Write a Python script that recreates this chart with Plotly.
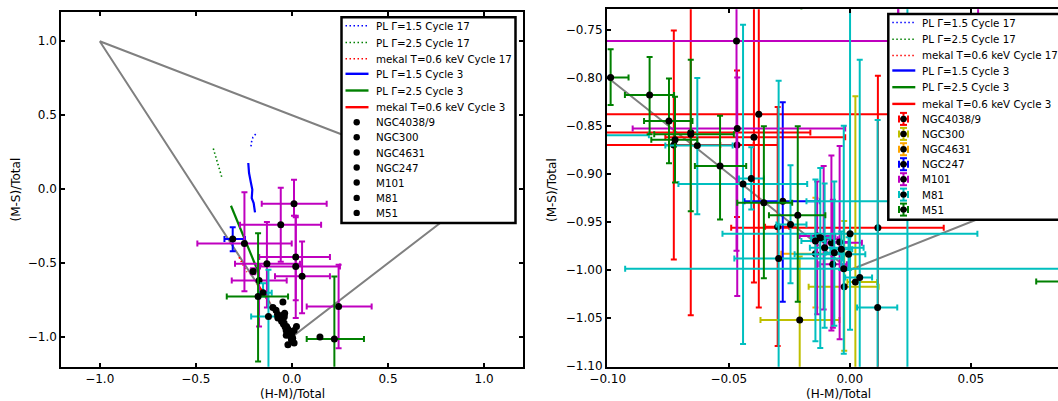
import plotly.graph_objects as go

W, H = 1058, 401

# ---------------- model tracks: x = (H-M)/Total, y = (M-S)/Total ----------------
pl15_c17_x = [-0.213, -0.210, -0.203, -0.192, -0.180]
pl15_c17_y = [0.290, 0.320, 0.350, 0.372, 0.387]
pl25_c17_x = [-0.409, -0.391, -0.378, -0.365]
pl25_c17_y = [0.275, 0.200, 0.143, 0.082]
mekal_c17_x = [-0.275, -0.255, -0.235]
mekal_c17_y = [-0.460, -0.510, -0.560]
pl15_c3_x = [-0.227, -0.223, -0.213, -0.206, -0.209, -0.199, -0.192]
pl15_c3_y = [0.177, 0.109, 0.042, -0.003, -0.060, -0.094, -0.157]
pl25_c3_x = [-0.317, -0.270, -0.220, -0.175]
pl25_c3_y = [-0.112, -0.260, -0.410, -0.560]
mekal_c3_x = [-0.180, -0.150, -0.116]
mekal_c3_y = [-0.640, -0.700, -0.768]

model_names = ["PL \u0393=1.5 Cycle 17", "PL \u0393=2.5 Cycle 17", "mekal T=0.6 keV Cycle 17",
               "PL \u0393=1.5 Cycle 3", "PL \u0393=2.5 Cycle 3", "mekal T=0.6 keV Cycle 3"]

# boundary triangle of the colour-colour plane
tri_x = [-1.0, 1.0, 0.0, -1.0]
tri_y = [1.0, 0.0, -1.0, 1.0]

# ---------------- sources: rows of (x, y, x_low, x_high, y_low, y_high) ----------------
ngc4038_core = [
    (-0.0727, -0.870, -0.115, -0.0297, -0.989, -0.751),
    (-0.0657, -0.857, -0.115, -0.0163, -1.047, -0.700),
    (-0.0396, -0.862, -0.0762, -0.0019, -1.013, -0.700),
    (-0.0376, -0.838, -0.130, 0.120, -1.039, -0.700),
    (-0.0466, -0.870, -0.0535, -0.0397, -0.945, -0.7925),
    (0.0116, -0.956, -0.049, 0.0388, -1.120, -0.798),
    (-0.0298, -0.955, -0.035, -0.025, -1.079, -0.8306),
    (0.146, -1.000, 0.140, 0.152, -1.005, -0.995),
]
ngc300_core = [
    (-0.0207, -1.052, -0.0369, -0.0043, -1.150, -0.986),
    (0.0023, -1.0125, -0.001, 0.0113, -1.200, -0.8195),
    (-0.0023, -1.0173, -0.017, 0.0119, -1.084, -0.949),
]
ngc4631_core = [
    (-0.0142, -0.983, -0.0283, -0.0005, -1.039, -0.925),
]
ngc247_core = [
    (-0.0277, -0.9284, -0.0435, -0.0124, -1.033, -0.8257),
]
ngc247_wide = [
    (-0.308, -0.337, -0.351, -0.244, -0.420, -0.258),
]
m101_core = [
    (-0.0468, -0.762, -0.150, 0.150, -0.980, -0.700),
    (-0.0465, -0.853, -0.0897, -0.0019, -1.027, -0.800),
    (-0.0135, -0.9647, -0.0207, -0.006, -1.046, -0.908),
    (-0.0108, -0.968, -0.016, -0.005, -1.041, -0.892),
    (-0.0076, -0.9716, -0.0096, 0.005, -1.063, -0.881),
    (-0.0042, -0.9709, -0.008, 0.000, -1.072, -0.871),
    (-0.0070, -0.994, -0.0126, -0.0012, -1.060, -0.927),
]
m101_wide = [
    (0.011, -0.098, -0.157, 0.181, -0.180, 0.064),
    (-0.058, -0.240, -0.270, 0.152, -0.490, 0.010),
    (-0.247, -0.367, -0.492, -0.001, -0.690, -0.020),
    (0.020, -0.459, -0.170, 0.198, -0.750, -0.180),
    (-0.130, -0.504, -0.296, 0.042, -0.800, -0.222),
    (0.020, -0.522, -0.166, 0.250, -0.870, -0.190),
    (0.053, -0.588, -0.088, 0.198, -0.838, -0.353),
    (-0.171, -0.617, -0.313, -0.027, -0.928, -0.520),
    (0.243, -0.793, 0.077, 0.415, -1.075, -0.511),
    (-0.202, -0.556, -0.215, -0.190, -0.575, -0.535),
]
m81_core = [
    (-0.0630, -0.8707, -0.0762, -0.0484, -0.942, -0.8005),
    (-0.0441, -0.9105, -0.0708, -0.0176, -1.077, -0.745),
    (-0.0407, -0.905, -0.0458, -0.0355, -0.937, -0.8725),
    (-0.0294, -0.988, -0.0477, -0.003, -1.120, -0.8033),
    (-0.0245, -0.9526, -0.0303, -0.0179, -1.0138, -0.891),
    (-0.0122, -0.9664, -0.016, -0.008, -1.081, -0.894),
    (-0.0142, -0.9699, -0.020, -0.010, -1.074, -0.906),
    (-0.0104, -0.9768, -0.0165, 0.0057, -1.060, -0.910),
    (-0.0064, -0.982, -0.010, -0.003, -1.058, -0.908),
    (-0.0035, -0.9785, -0.008, 0.001, -1.000, -0.960),
    (-0.0005, -0.9837, -0.0228, 0.0064, -1.000, -0.966),
    (-0.0025, -0.9986, -0.0928, 0.090, -1.087, -0.850),
    (0.0041, -1.0079, -0.0019, 0.0092, -1.150, -0.7815),
    (0.0115, -1.039, 0.003, 0.0196, -1.150, -0.844),
    (0.0001, -0.9623, -0.0526, 0.0527, -1.062, -0.700),
    (0.0238, -0.9285, -0.0179, 0.065, -1.150, -0.700),
]
m81_wide = [
    (-0.122, -0.860, -0.212, -0.083, -1.300, -0.545),
    (-0.150, -0.700, -0.175, -0.105, -0.725, -0.635),
]
m51_core = [
    (-0.0988, -0.7998, -0.106, -0.0914, -0.8285, -0.7704),
    (-0.0827, -0.818, -0.0929, -0.0726, -0.859, -0.7787),
    (-0.0747, -0.845, -0.085, -0.065, -0.889, -0.801),
    (-0.0722, -0.8645, -0.082, -0.063, -0.909, -0.820),
    (-0.0657, -0.859, -0.0808, -0.0479, -0.939, -0.7815),
    (-0.0536, -0.892, -0.064, -0.0428, -0.9474, -0.8396),
    (-0.0355, -0.930, -0.0465, -0.0238, -1.0086, -0.8506),
    (-0.0215, -0.943, -0.0334, -0.0101, -1.033, -0.8506),
]
m51_wide = [
    (-0.176, -0.726, -0.339, -0.020, -1.165, -0.297),
    (0.221, -1.012, 0.077, 0.375, -1.300, -0.590),
]

galaxy_names = ["NGC4038/9", "NGC300", "NGC4631", "NGC247", "M101", "M81", "M51"]
core_sets = [ngc4038_core, ngc300_core, ngc4631_core, ngc247_core, m101_core, m81_core, m51_core]
wide_sets = [[], [], [], ngc247_wide, m101_wide, m81_wide, m51_wide]

# ---------------- styles ----------------
galaxy_colors = ["#ff0000", "#bfbf00", "#ffa500", "#0000ff", "#bf00bf", "#00bfbf", "#008000"]
model_xs = [pl15_c17_x, pl25_c17_x, mekal_c17_x, pl15_c3_x, pl25_c3_x, mekal_c3_x]
model_ys = [pl15_c17_y, pl25_c17_y, mekal_c17_y, pl15_c3_y, pl25_c3_y, mekal_c3_y]
model_colors = ["#0000ff", "#008000", "#ff0000", "#0000ff", "#008000", "#ff0000"]
model_dash = ["dot", "dot", "dot", "solid", "solid", "solid"]
DOT_DASH = "1.5px,2.5px"
FONT = "DejaVu Sans"

fig = go.Figure()


def err_trace(rows, color, xa, ya, bars=True):
    kw = dict(
        x=[r[0] for r in rows], y=[r[1] for r in rows], mode="markers",
        marker=dict(color="black", size=7, line=dict(width=0)),
        xaxis=xa, yaxis=ya, showlegend=False, hoverinfo="skip",
    )
    if bars:
        kw["error_x"] = dict(type="data", symmetric=False,
                             array=[r[3] - r[0] for r in rows],
                             arrayminus=[r[0] - r[2] for r in rows],
                             color=color, thickness=2, width=3)
        kw["error_y"] = dict(type="data", symmetric=False,
                             array=[r[5] - r[1] for r in rows],
                             arrayminus=[r[1] - r[4] for r in rows],
                             color=color, thickness=2, width=3)
    return go.Scatter(**kw)


for xa, ya in (("x", "y"), ("x2", "y2")):
    fig.add_trace(go.Scatter(x=tri_x, y=tri_y, mode="lines", line=dict(color="#808080", width=2),
                             xaxis=xa, yaxis=ya, showlegend=False, hoverinfo="skip"))
    for mx, my, c, d in zip(model_xs, model_ys, model_colors, model_dash):
        fig.add_trace(go.Scatter(x=mx, y=my, mode="lines",
                                 line=dict(color=c, width=1.6 if d == "dot" else 2.2,
                                           dash=DOT_DASH if d == "dot" else "solid"),
                                 xaxis=xa, yaxis=ya, showlegend=False, hoverinfo="skip"))

# left overview: extended sources with error bars, compact cluster as dots
for rows, col in zip(wide_sets, galaxy_colors):
    if rows:
        fig.add_trace(err_trace(rows, col, "x", "y", bars=True))
for rows, col in zip(core_sets, galaxy_colors):
    fig.add_trace(err_trace(rows, col, "x", "y", bars=False))

# right zoom: everything with error bars
for core, wide, col in zip(core_sets, wide_sets, galaxy_colors):
    fig.add_trace(err_trace(core + wide, col, "x2", "y2", bars=True))

axis_common = dict(showline=True, linewidth=2, linecolor="black", ticks="inside", ticklen=4,
                   tickwidth=1.5, tickcolor="black", showgrid=False, zeroline=False,
                   tickfont=dict(family=FONT, size=12, color="black"), automargin=False)

fig.update_layout(
    width=W, height=H, autosize=False,
    margin=dict(l=0, r=0, t=0, b=0, pad=0),
    paper_bgcolor="white", plot_bgcolor="white",
    showlegend=False,
    xaxis=dict(axis_common, domain=[61.3 / W, 522.5 / W], range=[-1.2, 1.2], tick0=0, dtick=0.5,
               tickformat=".1f", mirror="ticks", anchor="y"),
    yaxis=dict(axis_common, domain=[1 - 366.7 / H, 1 - 11.7 / H], range=[-1.2, 1.2], tick0=0, dtick=0.5,
               tickformat=".1f", mirror="ticks", anchor="x"),
    xaxis2=dict(axis_common, domain=[607.0 / W, 1.0], range=[-0.1003, 0.086], tick0=0, dtick=0.05,
                tickformat=".2f", mirror="ticks", anchor="y2"),
    yaxis2=dict(axis_common, domain=[1 - 366.7 / H, 1 - 9.3 / H], range=[-1.1005, -0.729], tick0=0,
                dtick=0.05, tickformat=".2f", mirror=False, anchor="x2"),
)

shapes = []
annotations = []


def P(px, py):
    return px / W, 1 - py / H


# axis titles
for (tx, ty, txt, ang) in [(292, 394, "(H-M)/Total", 0), (838, 394, "(H-M)/Total", 0),
                           (15.5, 190, "(M-S)/Total", -90), (552, 190, "(M-S)/Total", -90)]:
    ax_, ay_ = P(tx, ty)
    annotations.append(dict(x=ax_, y=ay_, xref="paper", yref="paper", text=txt, showarrow=False,
                            textangle=ang, xanchor="center", yanchor="middle",
                            font=dict(family=FONT, size=12, color="black")))

# hand-built legends (matplotlib-like compact spacing)
LEG_OFFSETS = [8.5, 25.2, 41.5, 56.5, 73.2, 89.9, 104.9, 119.9, 135.2, 150.2, 165.2, 180.6, 195.6]
LEG_H = 205.7


def seg(x0, y0, x1, y1, color, width, dash="solid"):
    a = P(x0, y0)
    b = P(x1, y1)
    shapes.append(dict(type="line", xref="paper", yref="paper", x0=a[0], y0=a[1], x1=b[0], y1=b[1],
                       line=dict(color=color, width=width, dash=dash), layer="above"))


def dot(cx, cy, r, color):
    a = P(cx - r, cy + r)
    b = P(cx + r, cy - r)
    shapes.append(dict(type="circle", xref="paper", yref="paper", x0=a[0], y0=a[1], x1=b[0], y1=b[1],
                       fillcolor=color, line=dict(color=color, width=0), layer="above"))


def add_legend(left, top, right, errorbar_glyphs):
    a = P(left, top + LEG_H)
    b = P(right, top)
    shapes.append(dict(type="rect", xref="paper", yref="paper", x0=a[0], y0=a[1], x1=b[0], y1=b[1],
                       fillcolor="white", line=dict(color="black", width=2.5), layer="above"))
    labels = model_names + galaxy_names
    for i, lab in enumerate(labels):
        yy = top + LEG_OFFSETS[i]
        if i < len(model_names):
            seg(left + 4, yy, left + 27, yy, model_colors[i],
                1.6 if model_dash[i] == "dot" else 2.4,
                DOT_DASH if model_dash[i] == "dot" else "solid")
        else:
            mx = left + 15.2
            if errorbar_glyphs:
                col = galaxy_colors[i - len(model_names)]
                seg(mx, yy - 6, mx, yy + 6, col, 2)
                seg(mx - 3.5, yy - 6, mx + 3.5, yy - 6, col, 2)
                seg(mx - 3.5, yy + 6, mx + 3.5, yy + 6, col, 2)
                seg(mx - 4.5, yy, mx + 4.5, yy, col, 2)
                seg(mx - 4.5, yy - 3.5, mx - 4.5, yy + 3.5, col, 2)
                seg(mx + 4.5, yy - 3.5, mx + 4.5, yy + 3.5, col, 2)
            dot(mx, yy, 3.2, "black")
        tx, ty = P(left + 33, yy)
        annotations.append(dict(x=tx, y=ty, xref="paper", yref="paper", text=lab, showarrow=False,
                                xanchor="left", yanchor="middle", borderpad=0,
                                font=dict(family=FONT, size=10.3, color="black")))


add_legend(341.5, 17.3, 515.5, False)
add_legend(888.3, 14.0, 1075.0, True)

fig.update_layout(shapes=shapes, annotations=annotations)
fig.write_html("out.html", config={"displayModeBar": False},
               post_script="document.body.style.margin='0px';document.body.style.overflow='hidden';")
